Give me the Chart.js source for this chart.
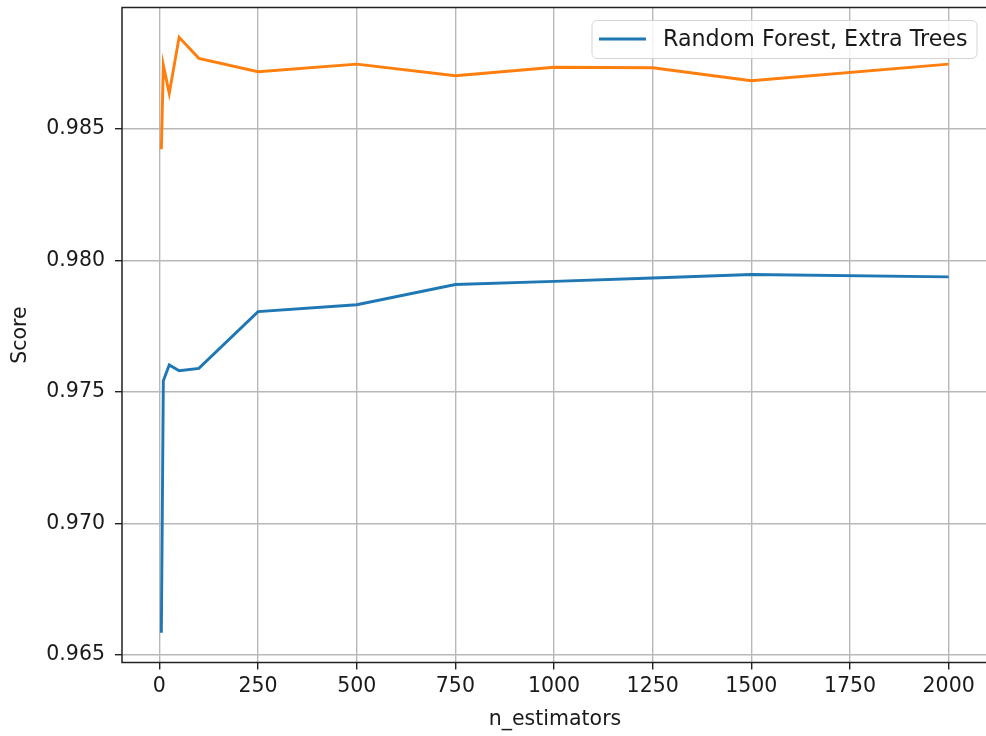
<!DOCTYPE html>
<html>
<head>
<meta charset="utf-8">
<script src="https://cdn.jsdelivr.net/npm/chart.js@4/dist/chart.umd.min.js"></script>
<style>
  html, body { margin: 0; padding: 0; background: #ffffff; overflow: hidden; }
  #wrap { width: 986px; height: 736px; overflow: hidden; }
</style>
</head>
<body>
<div id="wrap"><canvas id="c" width="990" height="736"></canvas></div>
<script>
// ---- data ----
const nEstimators = [5, 10, 25, 50, 100, 250, 500, 750, 1000, 1250, 1500, 2000];
const randomForestScores = [0.96585, 0.97543, 0.97603, 0.97581, 0.97590, 0.97806, 0.97832, 0.97909, 0.97921, 0.97934, 0.97947, 0.97938];
const extraTreesScores = [0.98423, 0.98743, 0.98636, 0.98849, 0.98769, 0.98718, 0.98747, 0.98703, 0.98735, 0.98733, 0.98684, 0.98747];
const xTicks = [0, 250, 500, 750, 1000, 1250, 1500, 1750, 2000];
const yTicks = [0.965, 0.970, 0.975, 0.980, 0.985];
const legendLabel = 'Random Forest, Extra Trees';
const xTitle = 'n_estimators';
const yTitle = 'Score';

// ---- matplotlib-like 5% margins ----
function paddedRange(vals) {
  const lo = Math.min(...vals), hi = Math.max(...vals);
  const m = (hi - lo) * 0.05;
  return [lo - m, hi + m];
}
const [xMin, xMax] = paddedRange(nEstimators);
const [yMin, yMax] = paddedRange(randomForestScores.concat(extraTreesScores));

const BLUE = '#1f77b4', ORANGE = '#ff7f0e';
const FONT = 'DejaVu Sans';
const TEXT = '#1a1a1a';

const toPts = ys => nEstimators.map((x, i) => ({ x: x, y: ys[i] }));

const framePlugin = {
  id: 'frame',
  afterDatasetsDraw(chart) {
    const { ctx, chartArea: a } = chart;
    ctx.save();
    ctx.strokeStyle = '#222222';
    ctx.lineWidth = 1.5;
    ctx.strokeRect(a.left, a.top, a.right - a.left, a.bottom - a.top);
    ctx.restore();
  },
  afterDraw(chart) {
    const { ctx } = chart;
    ctx.save();
    // legend box
    const bx = 592, by = 20.5, bw = 385, bh = 38, r = 5;
    ctx.beginPath();
    ctx.moveTo(bx + r, by);
    ctx.arcTo(bx + bw, by, bx + bw, by + bh, r);
    ctx.arcTo(bx + bw, by + bh, bx, by + bh, r);
    ctx.arcTo(bx, by + bh, bx, by, r);
    ctx.arcTo(bx, by, bx + bw, by, r);
    ctx.closePath();
    ctx.fillStyle = 'rgba(255,255,255,0.8)';
    ctx.fill();
    ctx.strokeStyle = '#d4d4d4';
    ctx.lineWidth = 1;
    ctx.stroke();
    // sample line
    ctx.beginPath();
    ctx.moveTo(599, 39);
    ctx.lineTo(646, 39);
    ctx.strokeStyle = BLUE;
    ctx.lineWidth = 2.9;
    ctx.stroke();
    // text
    ctx.fillStyle = TEXT;
    ctx.font = '22.2px "' + FONT + '"';
    ctx.textBaseline = 'middle';
    ctx.textAlign = 'left';
    ctx.fillText(legendLabel, 663, 40);
    ctx.restore();
  }
};

new Chart(document.getElementById('c'), {
  type: 'line',
  data: {
    datasets: [
      { label: legendLabel, data: toPts(randomForestScores), borderColor: BLUE, backgroundColor: BLUE,
        borderWidth: 2.9, pointRadius: 0, tension: 0, fill: false },
      { label: '', data: toPts(extraTreesScores), borderColor: ORANGE, backgroundColor: ORANGE,
        borderWidth: 2.9, pointRadius: 0, tension: 0, fill: false }
    ]
  },
  options: {
    responsive: false,
    devicePixelRatio: 1,
    animation: false,
    layout: { padding: { top: 7.5, right: 2, left: 0, bottom: 0 } },
    plugins: { legend: { display: false }, tooltip: { enabled: false } },
    scales: {
      x: {
        type: 'linear', min: xMin, max: xMax,
        afterBuildTicks: axis => { axis.ticks = xTicks.map(v => ({ value: v })); },
        afterFit: s => { s.height = 73.5; s.paddingLeft = 0; s.paddingRight = 0; },
        ticks: { color: TEXT, font: { family: FONT, size: 20.5 }, padding: 5, maxRotation: 0,
                 autoSkip: false, callback: v => String(v) },
        grid: { color: '#b8b8b8', lineWidth: 1.4, tickColor: '#222222', tickLength: 7, tickWidth: 1.4 },
        border: { display: false },
        title: { display: true, text: xTitle, color: TEXT, font: { family: FONT, size: 20.5 },
                 padding: { top: 0, bottom: 4 } }
      },
      y: {
        type: 'linear', min: yMin, max: yMax,
        afterBuildTicks: axis => { axis.ticks = yTicks.map(v => ({ value: v })); },
        afterFit: s => { s.width = 122; s.paddingTop = 0; s.paddingBottom = 0; },
        ticks: { color: TEXT, font: { family: FONT, size: 20.5 }, padding: 10,
                 autoSkip: false, callback: v => Number(v).toFixed(3) },
        grid: { color: '#b8b8b8', lineWidth: 1.4, tickColor: '#222222', tickLength: 7, tickWidth: 1.4 },
        border: { display: false },
        title: { display: true, text: yTitle, color: TEXT, font: { family: FONT, size: 20.5 },
                 padding: { top: 8, bottom: 0 } }
      }
    }
  },
  plugins: [framePlugin]
});
</script>
</body>
</html>
